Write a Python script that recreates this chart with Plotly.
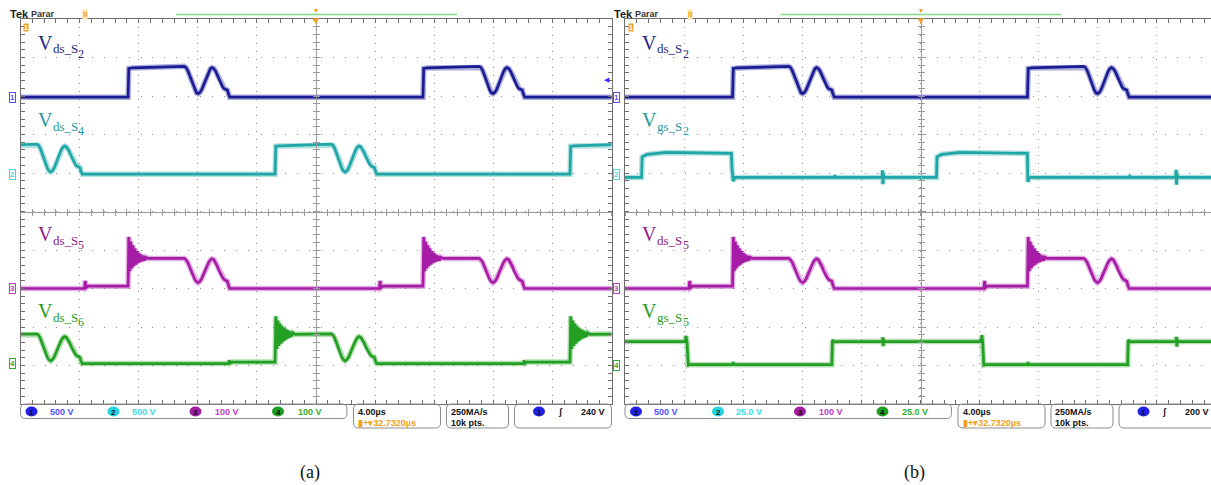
import plotly.graph_objects as go

W, H = 1211, 485

# ---------------------------------------------------------------------------
# Captured waveforms: time in µs from the screen centre, amplitude in volts
# ---------------------------------------------------------------------------
T_LEFT, T_SPAN = -20.0, 40.0            # 10 div x 4.00 µs/div

# resonant dip at the end of the off-state, offsets from the rising edge (µs)
DIP_T = [3.80, 3.92, 4.04, 4.16, 4.28, 4.40, 4.52, 4.63, 4.74, 4.86, 4.98, 5.10, 5.21, 5.33,
         5.45, 5.57, 5.68, 5.80, 5.92, 6.04, 6.16, 6.28, 6.40, 6.52, 6.62, 6.72, 6.80, 6.88]
DIP_S2_V = [400, 386, 346, 286, 217, 148, 91, 57, 45, 59, 96, 153, 214, 275,
            332, 369, 383, 372, 340, 290, 230, 175, 132, 108, 100, 92, 40, 0]
DIP_S4_V = [390, 375, 334, 272, 200, 130, 74, 40, 28, 42, 80, 138, 196, 256,
            314, 350, 364, 354, 323, 276, 220, 168, 128, 104, 96, 88, 36, 0]
DIP_S5_V = [78, 75, 68, 57, 45, 33, 23, 18, 15, 18, 25, 36, 47, 58,
            68, 74, 77, 75, 68, 58, 46, 36, 28, 23, 21, 19, 8, 0]
DIP_S6_V = [77, 74, 66, 54, 40, 27, 16, 10, 7, 10, 17, 28, 39, 50,
            60, 67, 70, 68, 62, 53, 42, 33, 25, 20, 18, 16, 6, 0]

# upper-leg switches: clean rising edge
RISE_T = [0.0, 0.05, 0.3]
RISE_S2_V = [0, 372, 380]
RISE_S4_V = [0, 362, 366]

# lower-leg switches: small step from the other leg, then turn-off ringing
RING_T = [-0.02, 0.0, 0.05, 0.12, 0.19, 0.26, 0.33, 0.40, 0.47, 0.54, 0.61, 0.68,
          0.75, 0.82, 0.89, 0.96, 1.03, 1.10, 1.2, 1.35]
STEP_S5_T = [-2.95, -2.9, -2.85, -2.7]
STEP_S5_V = [0, 20, 2, 6]
RING_S5_V = [6, 6, 134, 45, 122, 52, 112, 58, 104, 62, 97, 66,
             92, 69, 88, 71, 85, 73, 81, 78]
STEP_S6_T = [-3.14, -3.10, -3.05, -2.9]
STEP_S6_V = [0, 9, 1, 4]
RING_S6_V = [4, 4, 123, 38, 112, 46, 104, 52, 98, 57, 93, 61,
             89, 65, 86, 67, 83, 70, 80, 76]

# rising-edge times on screen (µs)
EDGES_S2 = [-12.72, 7.24]
EDGES_S4 = [-22.70, -2.77, 17.19]
EDGES_S5 = [-12.72, 7.24]
EDGES_S6 = [-22.70, -2.77, 17.19]

# gate-source voltages (panel b)
VGS_S2_T = [-21.0, -18.88, -18.84, -18.5, -17.2, -15.0, -13.0, -12.80, -12.76, -12.68,
            -12.55, -5.82, -5.79, -5.76, -2.60, -2.57, -2.54, -2.51, -2.47, 1.08,
            1.12, 1.45, 2.67, 5.0, 7.05, 7.23, 7.27, 7.35, 7.5, 14.14,
            14.17, 14.20, 17.27, 17.30, 17.33, 17.36, 17.40, 21.0]
VGS_S2_V = [-2.1, -2.1, 11.2, 12.8, 14.1, 14.0, 13.6, 13.5, 4.0, -4.5,
            -2.1, -2.1, -0.6, -2.1, -2.1, 2.5, -6.5, 0.5, -2.1, -2.1,
            11.2, 12.9, 14.1, 13.9, 13.5, 13.5, -5.0, -2.5, -2.1, -2.1,
            -0.5, -2.1, -2.1, 2.8, -6.8, 0.6, -2.1, -2.1]
VGS_S5_T = [-21.0, -15.92, -15.87, -15.80, -15.72, -15.6, -12.70, -12.67, -12.64, -6.0,
            -5.96, -5.85, -5.5, -2.58, -2.55, -2.52, -2.49, -2.45, 4.10, 4.16,
            4.22, 4.28, 4.45, 7.24, 7.27, 7.30, 14.02, 14.06, 14.2, 14.5,
            17.29, 17.32, 17.35, 17.38, 17.42, 21.0]
VGS_S5_V = [15.8, 15.8, 19.5, 15.0, 0.5, 0.8, 0.8, 2.5, 0.8, 0.8,
            16.8, 15.6, 15.8, 15.8, 18.5, 12.8, 17.0, 15.8, 15.8, 20.0,
            14.0, 0.5, 0.8, 0.8, 2.6, 0.8, 0.8, 16.8, 15.6, 15.8,
            15.8, 18.8, 12.5, 17.2, 15.8, 15.8]

# channel settings: V/div and ground position (div from centre)
CH_SCALE_A = [500, 500, 100, 100]
CH_SCALE_B = [500, 25, 100, 25]
CH_POS_A = [2.97, 0.97, -2.0, -3.95]
CH_POS_B = [2.97, 0.97, -2.0, -4.01]

SCALE_TEXT_A = ["500 V", "500 V", "100 V", "100 V"]
SCALE_TEXT_B = ["500 V", "25.0 V", "100 V", "25.0 V"]
TRIG_TEXT_A, TRIG_TEXT_B = "240 V", "200 V"
LABELS_A = [("ds", "2"), ("ds", "4"), ("ds", "5"), ("ds", "6")]
LABELS_B = [("ds", "2"), ("gs", "2"), ("ds", "5"), ("gs", "5")]
CAPTIONS = ["(a)", "(b)"]

# ---------------------------------------------------------------------------
TRACE = ["#1a1c94", "#1fa6a6", "#a71ca7", "#23a023"]
LABEL = ["#1c1f86", "#1d9a9a", "#8c1c8c", "#249c24"]
BADGE = ["#2020e8", "#22d4e0", "#a21ea2", "#1e9e1e"]
VTXT = ["#5050ff", "#3cdbe6", "#c03cc0", "#2fae2f"]
BORDER, GRID, CENTRE = "#6e6e6e", "#8c8c8c", "#9a9a9a"
SANS, SERIF = "Liberation Sans", "Liberation Serif"

GRID_TOP, GRID_BOT = 19.0, 404.0
Y_DOM = [1 - GRID_BOT / H, 1 - GRID_TOP / H]


def periodic(edges, t_off, volts):
    xs, ys = [], []
    if edges[0] + t_off[0] > T_LEFT:
        xs.append(T_LEFT - 1.0)
        ys.append(volts[0])
    for e in edges:
        xs += [e + t for t in t_off]
        ys += list(volts)
    if xs[-1] < T_LEFT + T_SPAN:
        xs.append(T_LEFT + T_SPAN + 1.0)
        ys.append(volts[-1])
    return xs, ys


SIGNALS_A = [periodic(EDGES_S2, RISE_T + DIP_T, RISE_S2_V + DIP_S2_V),
             periodic(EDGES_S4, RISE_T + DIP_T, RISE_S4_V + DIP_S4_V),
             periodic(EDGES_S5, STEP_S5_T + RING_T + DIP_T, STEP_S5_V + RING_S5_V + DIP_S5_V),
             periodic(EDGES_S6, STEP_S6_T + RING_T + DIP_T, STEP_S6_V + RING_S6_V + DIP_S6_V)]
SIGNALS_B = [SIGNALS_A[0], (VGS_S2_T, VGS_S2_V), SIGNALS_A[2], (VGS_S5_T, VGS_S5_V)]

PANELS = [
    dict(x="x", y="y", cx=("x3", "x4"), cy=("y3", "y4"), ch=("y5", "y6", "y7", "y8"),
         left=20.5, right=611.5, scale=CH_SCALE_A, pos=CH_POS_A, sig=SIGNALS_A,
         stext=SCALE_TEXT_A, trig=TRIG_TEXT_A, labels=LABELS_A, cap=CAPTIONS[0],
         mirror_y=True),
    dict(x="x2", y="y2", cx=("x5", "x6"), cy=("y9", "y10"), ch=("y11", "y12", "y13", "y14"),
         left=625.0, right=1216.0, scale=CH_SCALE_B, pos=CH_POS_B, sig=SIGNALS_B,
         stext=SCALE_TEXT_B, trig=TRIG_TEXT_B, labels=LABELS_B, cap=CAPTIONS[1],
         mirror_y=False),
]


def lk(aid):
    return aid[0] + "axis" + aid[1:]


def px(x):
    return x / W


def py(y):
    return 1 - y / H


fig = go.Figure()
layout = {}
shapes, anns = [], []


def text(x, y, s, size, color, xanchor="left", yanchor="middle", family=SANS, **kw):
    anns.append(dict(x=px(x), y=py(y), xref="paper", yref="paper", text=s, showarrow=False,
                     xanchor=xanchor, yanchor=yanchor, borderpad=0,
                     font=dict(size=size, color=color, family=family), **kw))


def rbox(x0, y0, x1, y1, r=5.0, color="#8c8c8c"):
    def P(x, y):
        return f"{px(x):.5f},{py(y):.5f}"
    path = (f"M{P(x0 + r, y0)} L{P(x1 - r, y0)} Q{P(x1, y0)} {P(x1, y0 + r)} "
            f"L{P(x1, y1 - r)} Q{P(x1, y1)} {P(x1 - r, y1)} L{P(x0 + r, y1)} "
            f"Q{P(x0, y1)} {P(x0, y1 - r)} L{P(x0, y0 + r)} Q{P(x0, y0)} {P(x0 + r, y0)} Z")
    shapes.append(dict(type="path", path=path, xref="paper", yref="paper",
                       line=dict(color=color, width=1), layer="above"))


def badge(cx, cy, num, fill, w=12.0, h=10.0, fcolor="#101010"):
    shapes.append(dict(type="circle", xref="paper", yref="paper",
                       x0=px(cx - w / 2), x1=px(cx + w / 2), y0=py(cy + h / 2), y1=py(cy - h / 2),
                       fillcolor=fill, line=dict(width=0)))
    text(cx, cy + 0.5, f"<b>{num}</b>", 8, fcolor, xanchor="center")


# base subplots first, so that every other axis overlays an existing one
for p in PANELS:
    fig.add_trace(go.Scatter(x=[None], y=[None], xaxis=p["x"], yaxis=p["y"],
                             showlegend=False, hoverinfo="skip"))

for p in PANELS:
    left, right = p["left"], p["right"]
    ppu = (right - left) / T_SPAN
    vis_right = min(right, W)
    xr = [T_LEFT, T_LEFT + (vis_right - left) / ppu]
    xdom = [px(left), px(vis_right)]
    xc_px = (left + right) / 2
    yc_px = (GRID_TOP + GRID_BOT) / 2

    layout[lk(p["x"])] = dict(
        domain=xdom, range=xr, anchor=p["y"], showline=True, linecolor=BORDER, linewidth=1,
        mirror="ticks", ticks="inside", ticklen=4, tickcolor=BORDER, dtick=4, tick0=0,
        showticklabels=False, showgrid=True, gridcolor=GRID, gridwidth=1,
        griddash="1px,7px", zeroline=False,
        minor=dict(dtick=0.8, tick0=0, ticks="inside", ticklen=4, tickcolor=BORDER, showgrid=False))
    layout[lk(p["y"])] = dict(
        domain=Y_DOM, range=[-5, 5], anchor=p["x"], showline=True, linecolor=BORDER, linewidth=1,
        mirror="ticks" if p["mirror_y"] else False, ticks="inside", ticklen=4, tickcolor=BORDER,
        dtick=1, tick0=0, showticklabels=False, showgrid=True, gridcolor=GRID, gridwidth=1,
        griddash="1px,11px", zeroline=False,
        minor=dict(dtick=0.2, tick0=0, ticks="inside", ticklen=4, tickcolor=BORDER, showgrid=False))

    # centre cross lines with 1/5-division ticks on both sides
    for aid, side in zip(p["cx"], ("outside", "inside")):
        layout[lk(aid)] = dict(overlaying=p["x"], anchor="free", position=py(yc_px), range=xr,
                               showline=True, linecolor=CENTRE, linewidth=1, ticks=side, ticklen=3,
                               tickcolor=CENTRE, dtick=0.8, tick0=0, showticklabels=False,
                               showgrid=False, zeroline=False)
        fig.add_trace(go.Scatter(x=[None], y=[None], xaxis=aid, yaxis=p["y"],
                                 showlegend=False, hoverinfo="skip"))
    for aid, side in zip(p["cy"], ("outside", "inside")):
        layout[lk(aid)] = dict(overlaying=p["y"], anchor="free", position=px(xc_px), range=[-5, 5],
                               showline=True, linecolor=CENTRE, linewidth=1, ticks=side, ticklen=3,
                               tickcolor=CENTRE, dtick=0.2, tick0=0, showticklabels=False,
                               showgrid=False, zeroline=False)
        fig.add_trace(go.Scatter(x=[None], y=[None], xaxis=p["x"], yaxis=aid,
                                 showlegend=False, hoverinfo="skip"))

    # one vertical axis per channel: V/div and ground position
    for k in range(4):
        s, g = p["scale"][k], p["pos"][k]
        aid = p["ch"][k]
        layout[lk(aid)] = dict(overlaying=p["y"], anchor=p["x"], range=[(-5 - g) * s, (5 - g) * s],
                               showline=False, showgrid=False, zeroline=False, ticks="",
                               showticklabels=False)
        xs, ys = p["sig"][k]
        fig.add_trace(go.Scatter(x=xs, y=ys, xaxis=p["x"], yaxis=aid, mode="lines",
                                 line=dict(color=TRACE[k], width=5.5), opacity=0.35,
                                 showlegend=False, hoverinfo="skip"))
        fig.add_trace(go.Scatter(x=xs, y=ys, xaxis=p["x"], yaxis=aid, mode="lines",
                                 line=dict(color=TRACE[k], width=2.7),
                                 showlegend=False, hoverinfo="skip"))

        # ground marker at the left of the graticule
        gy = yc_px - g * (GRID_BOT - GRID_TOP) / 10
        text(left - 8.5, gy, f"<b>{k + 1}</b>", 8, VTXT[k], xanchor="center",
             bordercolor=VTXT[k], borderwidth=1, bgcolor="white")

        # trace label V_xx_Sn
        sub, num = p["labels"][k]
        ly = [42.5, 120.0, 234.0, 311.0][k]
        lx = left + 16
        text(lx, ly, "V", 20, LABEL[k], family=SERIF)
        text(lx + 15, ly + 6.5, f"{sub}_S", 13, LABEL[k], family=SERIF)
        text(lx + 41, ly + 11, num, 12, LABEL[k], family=SERIF)

    # top status line
    text(left - 12, 13.5, "<b>Tek</b>", 11, "#1a1a1a")
    text(left + 9, 13.5, "<b>Parar</b>", 9, "#333333")
    text(left + 64.5, 14, "<b>II</b>", 8, "#f0a020", xanchor="center", bgcolor="#ffe2a8")
    shapes.append(dict(type="line", xref="paper", yref="paper", x0=px(left + 155.5),
                       x1=px(left + 436.5), y0=py(14.5), y1=py(14.5),
                       line=dict(color="#86dc86", width=1.5)))
    text(xc_px, 10.5, "▾", 8, "#f0a020", xanchor="center")
    text(xc_px, 21, "▼", 10, "#f0a020", xanchor="center")
    text(left + 6, 27, "<b>1</b>", 7, "white", xanchor="center", bgcolor="#f0a020")

    # bottom status bar
    sl = left
    rbox(sl, GRID_BOT, sl + 326.5, 418.5)
    for k in range(4):
        bx = sl + [11, 93, 175, 257.5][k]
        badge(bx, 411.5, k + 1, BADGE[k])
        text(sl + [28, 110, 193, 276][k], 411.5, f"<b>{p['stext'][k]}</b>", 9, VTXT[k])
    rbox(sl + 333, GRID_BOT, sl + 420, 428)
    text(sl + 336.5, 411.5, "<b>4.00µs</b>", 9, "#111111")
    text(sl + 336.5, 422.5, "<b>▮+▾32.7320µs</b>", 9, "#f0a020")
    rbox(sl + 426, GRID_BOT, sl + 488, 428)
    text(sl + 429, 411.5, "<b>250MA/s</b>", 9, "#111111")
    text(sl + 429, 422.5, "<b>10k pts.</b>", 9, "#111111")
    rbox(sl + 494, GRID_BOT, sl + 591, 428)
    badge(sl + 518.5, 411.5, 1, BADGE[0])
    text(sl + 539.5, 411.5, "<b>ʃ</b>", 9, "#111111", xanchor="center")
    text(sl + 585, 411.5, f"<b>{p['trig']}</b>", 9, "#111111", xanchor="right")

    # caption
    text(xc_px - 6, 472, p["cap"], 18, "#111111", xanchor="center", family=SERIF)

# trigger level arrow on the right edge of the first screen
text(607, 80, "◀", 7, "#3030ff", xanchor="center")

fig.update_layout(width=W, height=H, margin=dict(l=0, r=0, t=0, b=0),
                  paper_bgcolor="white", plot_bgcolor="rgba(0,0,0,0)", showlegend=False,
                  shapes=shapes, annotations=anns, **layout)
fig.write_html("out.html")
